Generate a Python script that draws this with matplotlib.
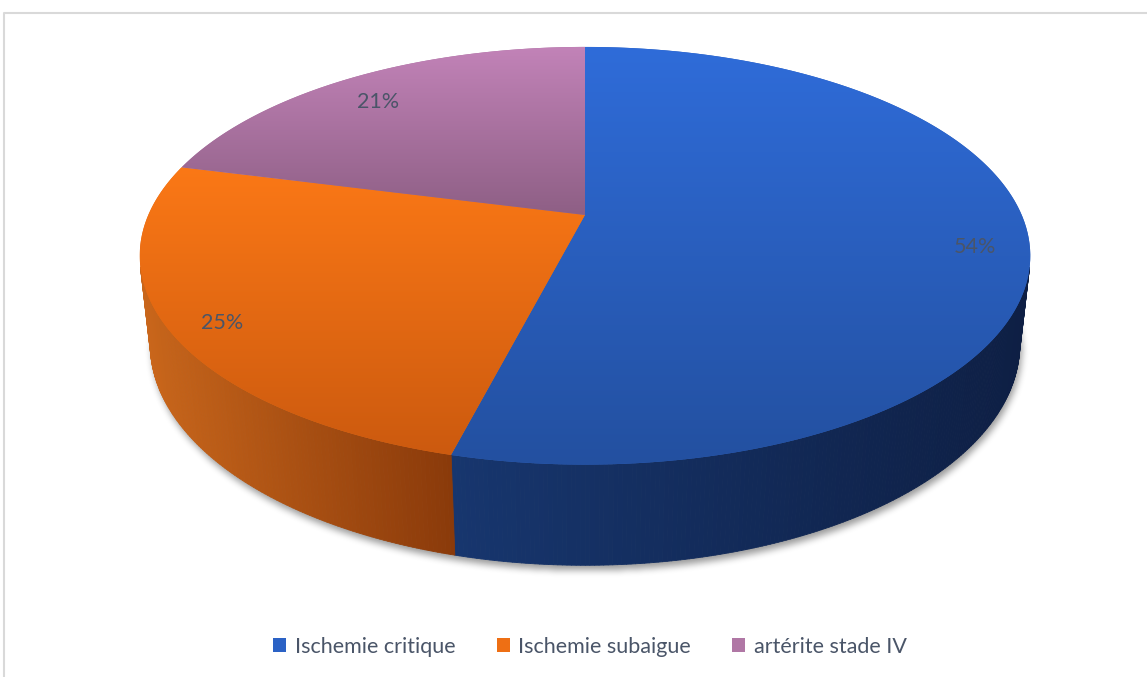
import numpy as np
import matplotlib
matplotlib.use('Agg')
import matplotlib.pyplot as plt
from matplotlib.path import Path
from matplotlib.patches import PathPatch, Patch
from matplotlib.collections import PolyCollection
from matplotlib.colors import to_rgb

# data
labels = ['Ischemie critique', 'Ischemie subaigue', 'artérite stade IV']
values = [54, 25, 21]

# colours: top face gradient (light -> dark) and side wall gradient (left -> right)
top_light = ['#2F6CD9', '#FB7816', '#C283B8']
top_dark = ['#2350A0', '#CC5A0F', '#8E5F85']
wall_left = ['#17366E', '#C9661B', '#8E5F85']
wall_right = ['#0E1F44', '#8A3A0A', '#6E4868']
legend_colors = ['#2B62C5', '#EE6F14', '#B077A5']
text_color = '#4A5568'

W, H = 1147, 677

# simple perspective camera looking down on the disc
cx, cy = 585, 215
F = 1987
L = 4.55
elev = np.arcsin(0.46)
thick = 0.23
label_r = 0.88


def project(X, Y, Z):
    yc = Y * np.sin(elev) + Z * np.cos(elev)
    zc = Y * np.cos(elev) - Z * np.sin(elev) + L
    return cx + F * X / zc, cy - F * yc / zc


def rim(phi, z):
    # phi in degrees, clockwise from the far side
    a = np.radians(phi)
    return project(np.sin(a), np.cos(a), z)


def box_blur(img, r, n=3):
    for _ in range(n):
        for axis in (0, 1):
            c = np.cumsum(np.pad(img, [(r + 1, r) if i == axis else (0, 0) for i in range(2)], mode='edge'), axis=axis)
            if axis == 0:
                img = (c[2 * r + 1:, :] - c[:-2 * r - 1, :]) / (2 * r + 1)
            else:
                img = (c[:, 2 * r + 1:] - c[:, :-2 * r - 1]) / (2 * r + 1)
    return img


def mix(c0, c1, t):
    c0, c1 = np.array(to_rgb(c0)), np.array(to_rgb(c1))
    return c0 + (c1 - c0) * t


fig = plt.figure(figsize=(W / 100, H / 100), dpi=100)
ax = fig.add_axes([0, 0, 1, 1])
ax.axis('off')

fracs = np.array(values) / np.sum(values)
edges = np.concatenate([[0], np.cumsum(fracs)]) * 360

# soft shadow under the disc
phis = np.linspace(0, 360, 721)
bx, by = rim(phis, -thick)
gx, gy = np.meshgrid(np.arange(W) + 0.5, np.arange(H) + 0.5)
mask = Path(np.column_stack([bx + 2, by + 5])).contains_points(
    np.column_stack([gx.ravel(), gy.ravel()])).reshape(H, W).astype(float)
mask = box_blur(mask, 3)
shadow = np.zeros((H, W, 4))
shadow[..., 3] = mask * 0.4
ax.imshow(shadow, extent=[0, W, H, 0], origin='upper', zorder=1)

# side walls, only the part facing the camera
vis = np.degrees(np.arccos(-1 / (L * np.cos(elev))))
for i in range(len(values)):
    a0 = max(edges[i], vis)
    a1 = min(edges[i + 1], 360 - vis)
    if a1 <= a0:
        continue
    ph = np.linspace(a0, a1, int((a1 - a0) * 2) + 2)
    tx, ty = rim(ph, 0)
    lx, ly = rim(ph, -thick)
    quads, cols = [], []
    xmin, xmax = tx.min(), tx.max()
    for k in range(len(ph) - 1):
        quads.append([(tx[k], ty[k]), (tx[k + 1], ty[k + 1]), (lx[k + 1], ly[k + 1]), (lx[k], ly[k])])
        t = ((tx[k] + tx[k + 1]) / 2 - xmin) / (xmax - xmin)
        cols.append(mix(wall_left[i], wall_right[i], t))
    ax.add_collection(PolyCollection(quads, facecolors=cols, edgecolors=cols, linewidths=0.6, zorder=2))

# top faces with vertical gradient
for i in range(len(values)):
    ph = np.linspace(edges[i], edges[i + 1], int((edges[i + 1] - edges[i]) * 2) + 2)
    ex, ey = rim(ph, 0)
    px = np.concatenate([[cx], ex, [cx]])
    py = np.concatenate([[cy], ey, [cy]])
    path = Path(np.column_stack([px, py]))
    base = PathPatch(path, facecolor=mix(top_light[i], top_dark[i], 0.5), edgecolor='none', zorder=3)
    ax.add_patch(base)
    clip = PathPatch(path, facecolor='none', edgecolor='none')
    ax.add_patch(clip)
    grad = np.array([mix(top_light[i], top_dark[i], t) for t in np.linspace(0, 1, 256)])[:, None, :]
    im = ax.imshow(grad, extent=[px.min(), px.max(), py.max(), py.min()], origin='upper',
                   aspect='auto', interpolation='bilinear', zorder=4)
    im.set_clip_path(clip)

# percentage labels
for i in range(len(values)):
    mid = np.radians((edges[i] + edges[i + 1]) / 2)
    lx, ly = project(label_r * np.sin(mid), label_r * np.cos(mid), 0)
    ax.annotate(f'{values[i]}%', (lx, ly), xytext=(0, -7), textcoords='offset points',
                ha='center', va='center', fontsize=15.5, family='Lato',
                color=text_color, zorder=5)

# chart frame
ax.plot([4, 4, W], [H, 13, 13], color='#D9D9D9', lw=1.5, zorder=0)

handles = [Patch(facecolor=c, edgecolor='none') for c in legend_colors]
ax.legend(handles, labels, loc='center', bbox_to_anchor=(590 / W, 1 - 647 / H), ncol=3,
          frameon=False, handlelength=0.62, handleheight=0.62, handletextpad=0.4,
          columnspacing=1.9, prop={'family': 'Lato', 'size': 15.5}, labelcolor=text_color)

ax.set_xlim(0, W)
ax.set_ylim(H, 0)
fig.savefig('out.png', dpi=100)
